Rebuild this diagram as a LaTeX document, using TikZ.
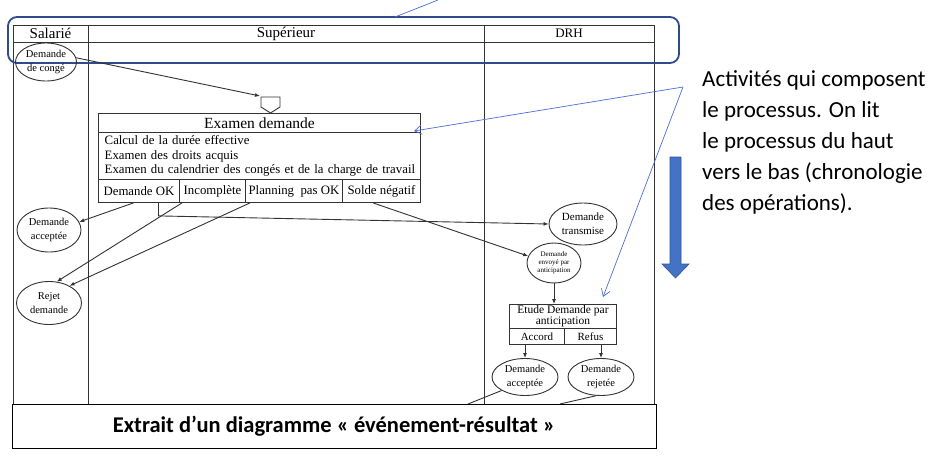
\documentclass[tikz,border=0pt]{standalone}
\usepackage{fontspec}
\setmainfont{Liberation Serif}
\newfontfamily\calib{Carlito}
\usetikzlibrary{shapes.geometric,arrows.meta,positioning}
\definecolor{frameblue}{HTML}{2F4B8C}
\definecolor{noteblue}{HTML}{4A6FD6}
\definecolor{arrowblue}{HTML}{4472C4}
\definecolor{diag}{HTML}{333333}
\begin{document}
\begin{tikzpicture}[x=1pt, y=-1pt,
    evt/.style={ellipse, draw=diag, line width=.9pt, align=center, inner sep=0pt, font=\fontsize{10.5}{13.5}\selectfont},
    cell/.style={draw=diag, line width=.9pt, anchor=north west, inner sep=0pt, font=\fontsize{12.8}{14}\selectfont},
    flow/.style={diag, line width=.9pt, -{Latex[length=5pt,width=4pt]}},
    note/.style={noteblue, line width=.7pt, -{Straight Barb[length=7pt,width=9pt]}}]
  \fill[white] (0,0) rectangle (929,461);
  \useasboundingbox (0,0) rectangle (929,461);
  \draw[diag, line width=1pt] (13,25) rectangle (654,404) (13,42) -- (654,42) (88,25) -- (88,404) (484,25) -- (484,404);
  \node[font=\fontsize{15}{16}\selectfont] (sal) at (50.5,33.5) {Salarié};
  \node[font=\fontsize{15}{16}\selectfont] (sup) at (286,33.5) {Supérieur};
  \node[font=\fontsize{13}{14}\selectfont] (drh) at (569,33.5) {DRH};
  \draw[frameblue, line width=1.8pt, rounded corners=9pt] (8,17) rectangle (679,63);
  \node[evt, minimum width=61, minimum height=38] (conge) at (46,62) {Demande\\de congé};
  \draw[diag, line width=.9pt] (261,97) -- (280,97) -- (280,107) -- (270.5,113) -- (261,107) -- cycle;
  \coordinate (conn) at (260,96);
  \draw[flow] (conge.8) to (conn);
  \node[cell, minimum width=322, minimum height=19, font=\fontsize{15.5}{16}\selectfont] (exa) at (98,113) {Examen demande};
  \node[cell, text width=318, inner xsep=2, minimum height=47, align=left, font=\fontsize{12.8}{14.5}\selectfont] (exb) at (98,132) {\ Calcul de la durée effective\\\ Examen des droits acquis\\\ Examen du calendrier des congés et de la charge de travail};
  \node[cell, minimum width=81, minimum height=23] (ok) at (98,179) {Demande OK};
  \node[cell, minimum width=66, minimum height=23] (inc) at (179,179) {Incomplète};
  \node[cell, minimum width=97, minimum height=23] (pla) at (245,179) {Planning\ \ pas OK};
  \node[cell, minimum width=78, minimum height=23] (sol) at (342,179) {Solde négatif};
  \node[evt, minimum width=64, minimum height=44] (accl) at (49,230) {Demande\\acceptée};
  \node[evt, minimum width=65, minimum height=43] (rej) at (49,303) {Rejet\\demande};
  \node[evt, minimum width=68, minimum height=42, font=\fontsize{11}{14}\selectfont] (trans) at (583,224) {Demande\\transmise};
  \node[evt, minimum width=54, minimum height=40, font=\fontsize{7}{8}\selectfont] (ant) at (554,263) {Demande\\envoyé par\\anticipation};
  \draw[flow] ([xshift=-5.5pt]ok.south) to (accl.15);
  \draw[flow] ([xshift=3pt]inc.south west) to (rej.70);
  \draw[flow] ([xshift=5pt]pla.south west) to (rej.40);
  \draw[flow] ([xshift=19.5pt]ok.south) -- ++(0,13) -- (trans.west);
  \draw[flow] ([xshift=31pt]sol.south west) to (ant.165);
  \node[cell, minimum width=107, minimum height=24, align=center, font=\fontsize{11.5}{10.5}\selectfont] (etu) at (509,304) {Etude Demande par\\anticipation};
  \node[cell, minimum width=55, minimum height=16, font=\fontsize{11}{12}\selectfont] (acd) at (509,328) {Accord};
  \node[cell, minimum width=52, minimum height=16, font=\fontsize{11}{12}\selectfont] (rfs) at (564,328) {Refus};
  \node[evt, minimum width=66, minimum height=37] (accr) at (525,377) {Demande\\acceptée};
  \node[evt, minimum width=66, minimum height=37] (rejr) at (601,377) {Demande\\rejetée};
  \draw[flow] (ant.south) -- (ant.south |- etu.north);
  \draw[flow] (acd.south -| accr) -- (accr.north);
  \draw[flow] (rfs.south -| rejr) -- (rejr.north);
  \coordinate (outa) at (468,404);
  \coordinate (outb) at (560,404);
  \draw[diag, line width=.9pt] (accr.210) -- (outa) (rejr.255) -- (outb);
  \node[draw=black, line width=.8pt, fill=white, minimum width=644, minimum height=44, inner sep=0pt, font=\calib\bfseries\fontsize{22.5}{24}\selectfont] (capt) at (334,426) {Extrait d’un diagramme « événement-résultat »};
  \node[anchor=north west, align=left, inner sep=0pt, font=\calib\fontsize{23}{31}\selectfont] (txt) at (702,70) {Activités qui composent\\le processus. On lit\\le processus du haut\\vers le bas (chronologie\\des opérations).};
  \draw[arrowblue!75!black, fill=arrowblue, line width=.6pt] (670,157) -- (681,157) -- (681,264) -- (689,264) -- (675.5,278) -- (662,264) -- (670,264) -- cycle;
  \coordinate (apex) at (683,87);
  \coordinate (tipa) at (414,131);
  \coordinate (tipb) at (603,297);
  \draw[note] (apex) -- (tipa);
  \draw[note] (apex) -- (tipb);
  \coordinate (framept) at (395,17);
  \coordinate (topnote) at (438,0);
  \draw[noteblue, line width=.7pt] (framept) -- (topnote);
\end{tikzpicture}
\end{document}
